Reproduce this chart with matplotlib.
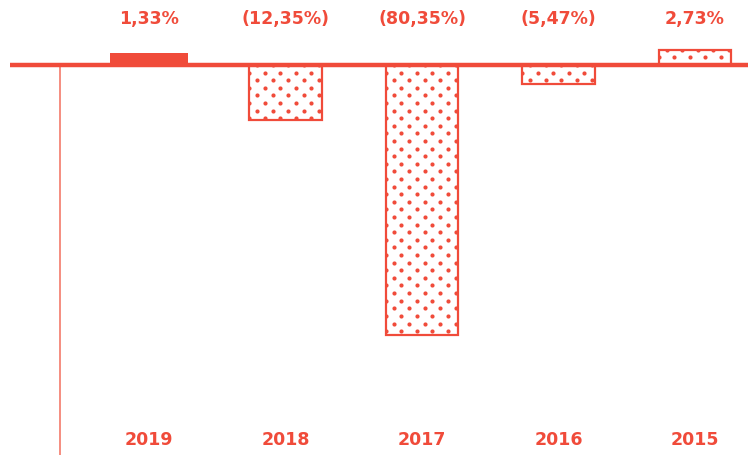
import matplotlib.pyplot as plt
import numpy as np

# data
years = ['2019', '2018', '2017', '2016', '2015']
labels = ['1,33%', '(12,35%)', '(80,35%)', '(5,47%)', '2,73%']
# bar heights as drawn in the picture (same units as the 80,35% bar)
heights = [3.6, -16.4, -80.35, -5.7, 4.5]

red = '#f04b3a'

fig = plt.figure(figsize=(7.54, 4.56), dpi=100)
ax = fig.add_axes([0, 0, 1, 1])
ax.set_xlim(-1.0916, 4.432)
ax.set_ylim(-116, 19.6)
ax.axis('off')

# pixel -> data unit factors
px_x = 1 / 136.5
px_y = 1 / 3.36

x = list(range(len(years)))
for i, h in zip(x, heights):
    if i == 0:
        ax.bar(i, h, width=0.57, color=red, edgecolor=red, linewidth=0, zorder=2)
        continue
    bars = ax.bar(i, h, width=0.53, facecolor='white', edgecolor=red,
                  linewidth=1.6, zorder=3, fill=False)
    ax.bar(i, h, width=0.53, facecolor='white', linewidth=0, zorder=1)
    rect = bars[0]
    x0 = rect.get_x()
    w = rect.get_width()
    # staggered dot pattern inside the bar
    step_x = 15.5 * px_x
    step_y = 7.6 * px_y
    rows = np.arange(0, abs(h) + step_y, step_y)
    xs, ys = [], []
    for k, r in enumerate(rows):
        off = step_x / 2 if k % 2 == 0 else 0
        cols = np.arange(x0 + off, x0 + w + step_x, step_x)
        xs.extend(cols)
        ys.extend([np.sign(h) * r] * len(cols))
    sc = ax.scatter(xs, ys, s=9, color=red, linewidths=0, zorder=2)
    sc.set_clip_path(rect)

# zero line and left axis line
ax.plot([-1.018, 4.388], [0, 0], color=red, linewidth=3.2, zorder=4,
        solid_capstyle='butt')
ax.plot([-0.652, -0.652], [0, -116], color='#f47a6b', linewidth=1.2, zorder=1)

for i, lab in zip(x, labels):
    ax.text(i, 14.0, lab, ha='center', va='center', color=red,
            fontsize=12.5, fontweight='bold')
for i, yr in zip(x, years):
    ax.text(i, -111.3, yr, ha='center', va='center', color=red,
            fontsize=12.5, fontweight='bold')

fig.savefig('out.png', dpi=100)
